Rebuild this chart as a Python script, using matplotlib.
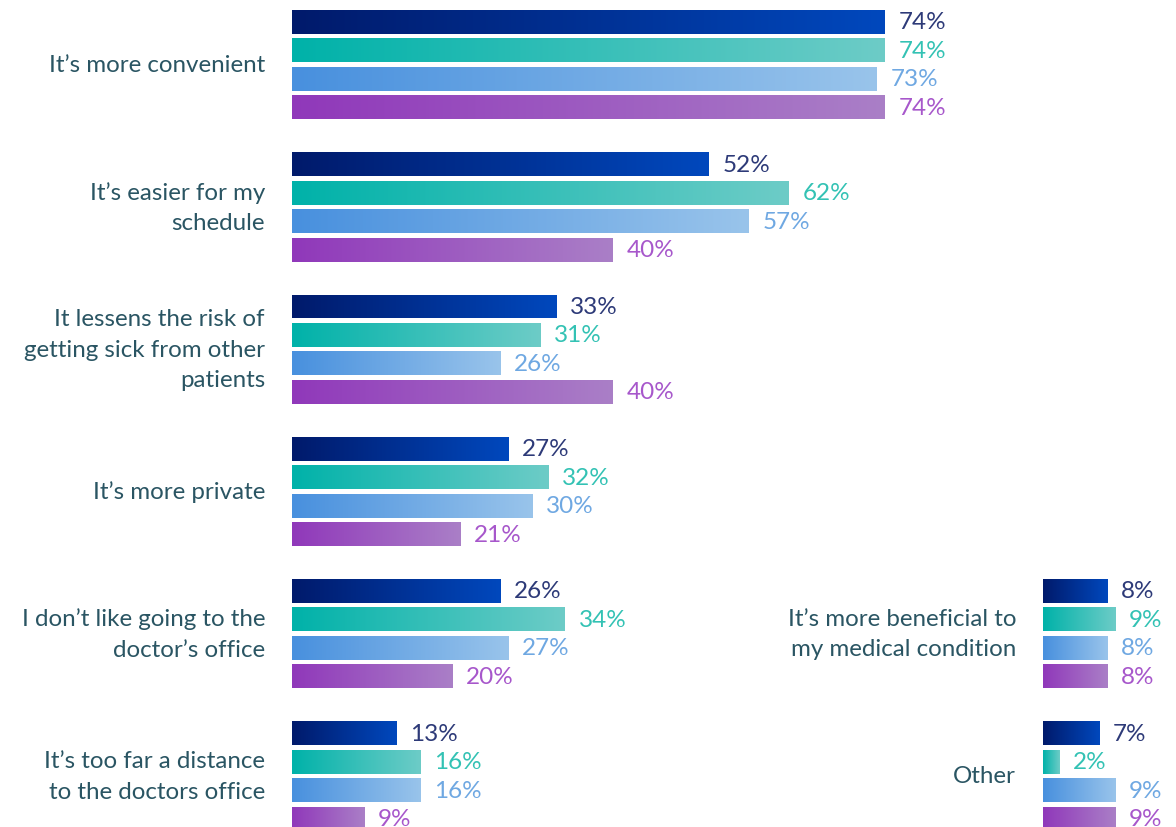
import matplotlib.pyplot as plt
import matplotlib.colors as mcolors
import numpy as np

# data
left_cats = ["It\u2019s more convenient", "It\u2019s easier for my\nschedule",
             "It lessens the risk of\ngetting sick from other\npatients",
             "It\u2019s more private", "I don\u2019t like going to the\ndoctor\u2019s office",
             "It\u2019s too far a distance\nto the doctors office"]
left_vals = [[74, 74, 73, 74],
             [52, 62, 57, 40],
             [33, 31, 26, 40],
             [27, 32, 30, 21],
             [26, 34, 27, 20],
             [13, 16, 16, 9]]
right_cats = ["It\u2019s more beneficial to\nmy medical condition", "Other"]
right_vals = [[8, 9, 8, 8],
              [7, 2, 9, 9]]

# gradient start/end per series, and label colour
grad = [("#011a6b", "#0048bd"),
        ("#00b2a9", "#6dccc7"),
        ("#4890de", "#99c4eb"),
        ("#9038ba", "#aa7fc7")]
lab_col = ["#2d3a78", "#33c2b4", "#6fa8e2", "#a757cb"]
cat_col = "#2a5563"

W, H = 1176, 828
fig = plt.figure(figsize=(W / 100, H / 100), dpi=100)
plt.rcParams['font.family'] = ['Lato', 'DejaVu Sans']

px_per = 8.013          # pixels per percentage point
unit = 28.45            # pixels per bar slot
y_top = -23 / unit
y_bot = (H - 23) / unit
bh = 24 / unit


def gradient_bars(ax, groups, vals, cats):
    xs = np.linspace(0, 1, 256).reshape(1, -1)
    for g, row in zip(groups, vals):
        for i, v in enumerate(row):
            y = g * 5 + i
            bar = ax.barh(y, v, height=bh, color="none", edgecolor="none")[0]
            cmap = mcolors.LinearSegmentedColormap.from_list("g", grad[i])
            im = ax.imshow(xs, cmap=cmap, aspect="auto", interpolation="bicubic",
                           extent=(0, v, y + bh / 2, y - bh / 2), zorder=2)
            im.set_clip_path(bar)
            ax.annotate(f"{v}%", (v, y), xytext=(14, 0), textcoords="offset pixels",
                        va="center", ha="left", fontsize=17.5, color=lab_col[i],
                        annotation_clip=False)
    for g, c in zip(groups, cats):
        ax.annotate(c, (0, g * 5 + 1.5), xytext=(-27, 0), textcoords="offset pixels",
                    ha="right", va="center", fontsize=17.4, color=cat_col,
                    linespacing=1.55, annotation_clip=False)
    ax.set_ylim(y_bot, y_top)
    ax.axis("off")


# left panel
x0 = 292
xmax = 80
ax1 = fig.add_axes([x0 / W, 0, xmax * px_per / W, 1])
ax1.set_xlim(0, xmax)
gradient_bars(ax1, range(6), left_vals, left_cats)

# right panel
x1 = 1043
xmax2 = 12
ax2 = fig.add_axes([x1 / W, 0, xmax2 * px_per / W, 1])
ax2.set_xlim(0, xmax2)
gradient_bars(ax2, [4, 5], right_vals, right_cats)

fig.savefig("out.png", dpi=100)
